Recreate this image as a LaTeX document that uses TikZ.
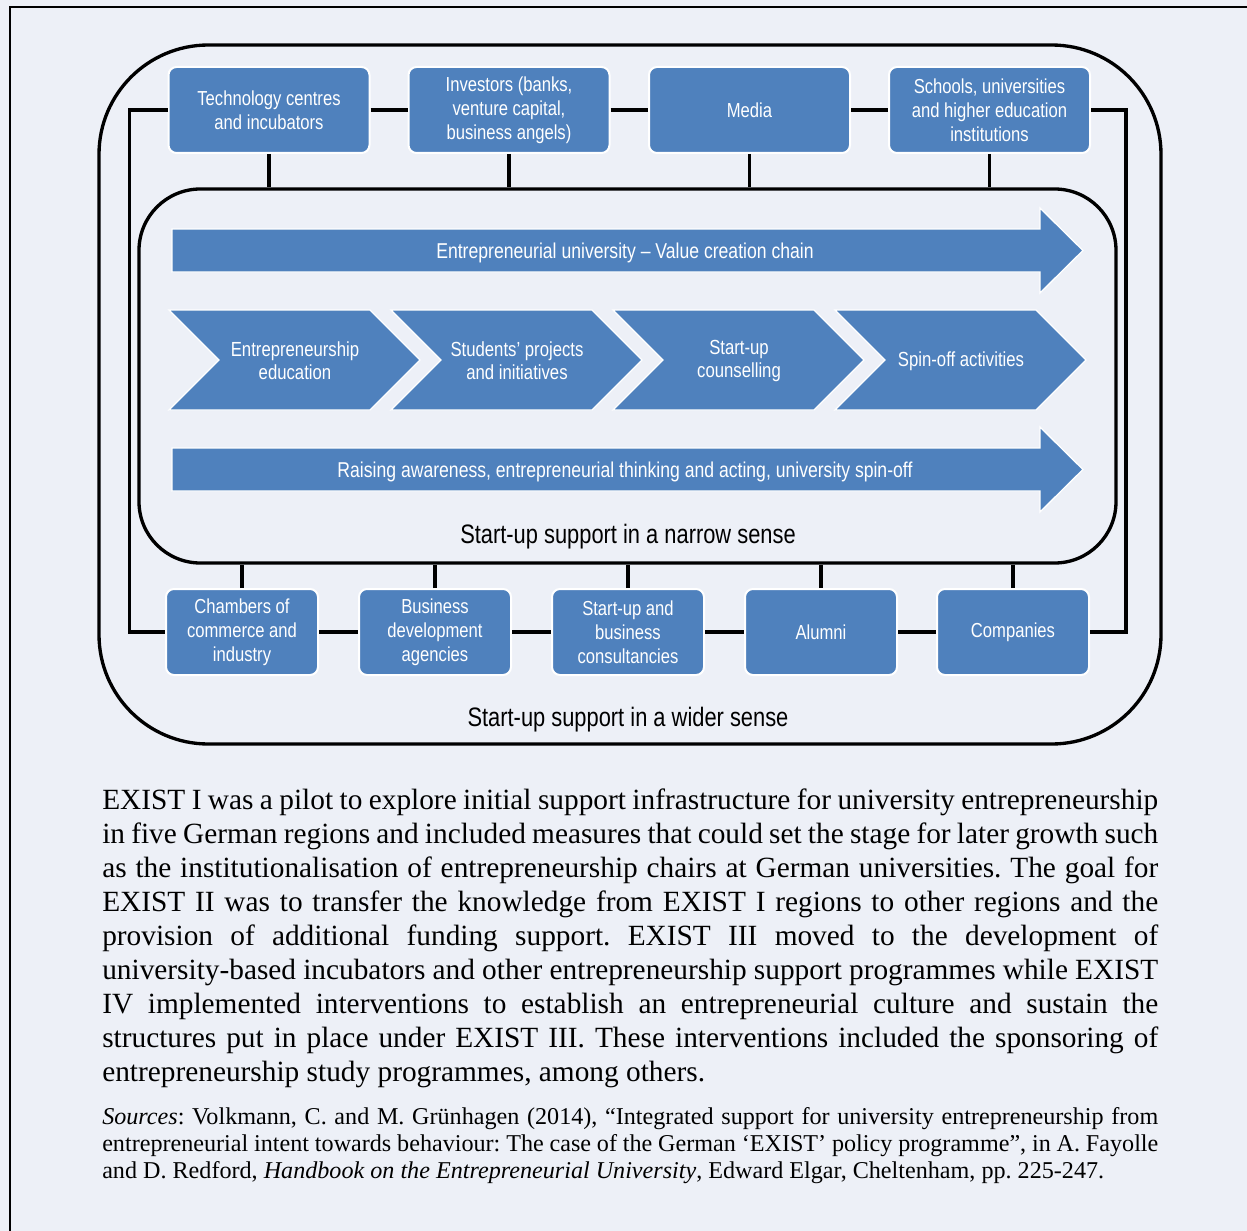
\documentclass[tikz,border=0pt]{standalone}
\usepackage{fontspec}
\setmainfont{Liberation Serif}
\newfontfamily\narrowsf[FakeStretch=0.82]{Liberation Sans}
\definecolor{boxblue}{RGB}{79,129,189}
\definecolor{pagebg}{RGB}{237,240,247}
\tikzset{
  unitbox/.style={draw=white, line width=1.5pt, fill=boxblue, rounded corners=6pt,
    text=white, align=center, inner sep=0pt,
    font=\narrowsf\fontsize{15.2}{18}\selectfont},
  topbox/.style={unitbox, minimum width=150.75pt, minimum height=64.5pt},
  lowbox/.style={unitbox, minimum width=114pt, minimum height=64.5pt},
  link/.style={line width=2.5pt},
  band/.style={fill=boxblue, draw=white, line width=1pt},
  bandtext/.style={text=white, align=center, inner sep=0pt,
    font=\narrowsf\fontsize{15.3}{17}\selectfont},
  arrowtext/.style={bandtext, font=\narrowsf\fontsize{16.1}{18}\selectfont},
  scopelbl/.style={inner sep=0pt, font=\narrowsf\fontsize{20}{24}\selectfont},
  sphere/.style={draw, line width=2.5pt}
}
\begin{document}
\begin{tikzpicture}[x=0.75pt, y=-0.75pt]
\useasboundingbox (0,0) rectangle (1247,1231);
\fill[pagebg] (0,0) rectangle (1247,1231);
\draw[line width=1.5pt] (10,1231) -- (10,7) -- (1247,7);
\node[sphere, rounded corners=82pt, minimum width=796.5pt, minimum height=524.25pt] (wide) at (630,394.5) {};
\node[sphere, rounded corners=46pt, minimum width=732.75pt, minimum height=280.5pt] (narrow) at (627.5,376) {};
\node[scopelbl] (widelbl) at (628,720) {Start-up support in a wider sense};
\node[scopelbl] (narrowlbl) at (628,537) {Start-up support in a narrow sense};
\fill[band] (172,229) -- (1040,229) -- (1040,208) -- (1083,250.5) -- (1040,293) -- (1040,272) -- (172,272) -- cycle;
\node[arrowtext] (chainlbl) at (625,253) {Entrepreneurial university – Value creation chain};
\fill[band] (172,448) -- (1040,448) -- (1040,427) -- (1083,469.5) -- (1040,512) -- (1040,491) -- (172,491) -- cycle;
\node[arrowtext] (awarelbl) at (625,471.5) {Raising awareness, entrepreneurial thinking and acting, university spin-off};
\fill[band] (169,310) -- (370,310) -- (420,360) -- (370,410) -- (169,410) -- (219,360) -- cycle;
\node[bandtext] (edu) at (295,361) {Entrepreneurship\\education};
\fill[band] (391,310) -- (592,310) -- (642,360) -- (592,410) -- (391,410) -- (441,360) -- cycle;
\node[bandtext] (projects) at (517,361) {Students’ projects\\and initiatives};
\fill[band] (613,310) -- (814,310) -- (864,360) -- (814,410) -- (613,410) -- (663,360) -- cycle;
\node[bandtext] (counsel) at (739,361) {Start-up\\counselling};
\fill[band] (835,310) -- (1036,310) -- (1086,360) -- (1036,410) -- (835,410) -- (885,360) -- cycle;
\node[bandtext] (spinoff) at (961,361) {Spin-off activities};
\node[topbox] (tech) at (269,110) {Technology centres\\and incubators};
\node[topbox] (invest) at (509,110) {Investors (banks,\\venture capital,\\business angels)};
\node[topbox] (media) at (749.5,110) {Media};
\node[topbox] (school) at (989.5,110) {Schools, universities\\and higher education\\institutions};
\node[lowbox] (chamber) at (242,632) {Chambers of\\commerce and\\industry};
\node[lowbox] (busdev) at (435,632) {Business\\development\\agencies};
\node[lowbox] (consult) at (628,632) {Start-up and\\business\\consultancies};
\node[lowbox] (alumni) at (821,632) {Alumni};
\node[lowbox] (company) at (1013,632) {Companies};
\draw[link] (tech) -- (invest);
\draw[link] (invest) -- (media);
\draw[link] (media) -- (school);
\draw[link] (chamber) -- (busdev);
\draw[link] (busdev) -- (consult);
\draw[link] (consult) -- (alumni);
\draw[link] (alumni) -- (company);
\draw[link] (tech.west) -- ++(-38,0) |- (chamber.west);
\draw[link] (school.east) -- ++(35,0) |- (company.east);
\draw[link] (tech.south) -- (tech.south |- narrow.north);
\draw[link] (invest.south) -- (invest.south |- narrow.north);
\draw[link] (media.south) -- (media.south |- narrow.north);
\draw[link] (school.south) -- (school.south |- narrow.north);
\draw[link] (chamber.north) -- (chamber.north |- narrow.south);
\draw[link] (busdev.north) -- (busdev.north |- narrow.south);
\draw[link] (consult.north) -- (consult.north |- narrow.south);
\draw[link] (alumni.north) -- (alumni.north |- narrow.south);
\draw[link] (company.north) -- (company.north |- narrow.south);
\node[anchor=base west, inner sep=0pt] (body) at (102,809) {\vtop{\hsize=792pt \frenchspacing \fontsize{22}{25.5}\selectfont
\hbox to\hsize{EXIST I was a pilot to explore initial support infrastructure for university entrepreneurship}
\hbox to\hsize{in five German regions and included measures that could set the stage for later growth such}
\hbox to\hsize{as the institutionalisation of entrepreneurship chairs at German universities. The goal for}
\hbox to\hsize{EXIST II was to transfer the knowledge from EXIST I regions to other regions and the}
\hbox to\hsize{provision of additional funding support. EXIST III moved to the development of}
\hbox to\hsize{university-based incubators and other entrepreneurship support programmes while EXIST}
\hbox to\hsize{IV implemented interventions to establish an entrepreneurial culture and sustain the}
\hbox to\hsize{structures put in place under EXIST III. These interventions included the sponsoring of}
\hbox{entrepreneurship study programmes, among others.}}};
\node[anchor=base west, inner sep=0pt] (sources) at (102,1124) {\vtop{\hsize=792pt \frenchspacing \fontsize{18.1}{20.6}\selectfont
\hbox to\hsize{\textit{Sources}: Volkmann, C. and M. Grünhagen (2014), “Integrated support for university entrepreneurship from}
\hbox to\hsize{entrepreneurial intent towards behaviour: The case of the German ‘EXIST’ policy programme”, in A. Fayolle}
\hbox{and D. Redford, \textit{Handbook on the Entrepreneurial University}, Edward Elgar, Cheltenham, pp. 225-247.}}};
\end{tikzpicture}
\end{document}
